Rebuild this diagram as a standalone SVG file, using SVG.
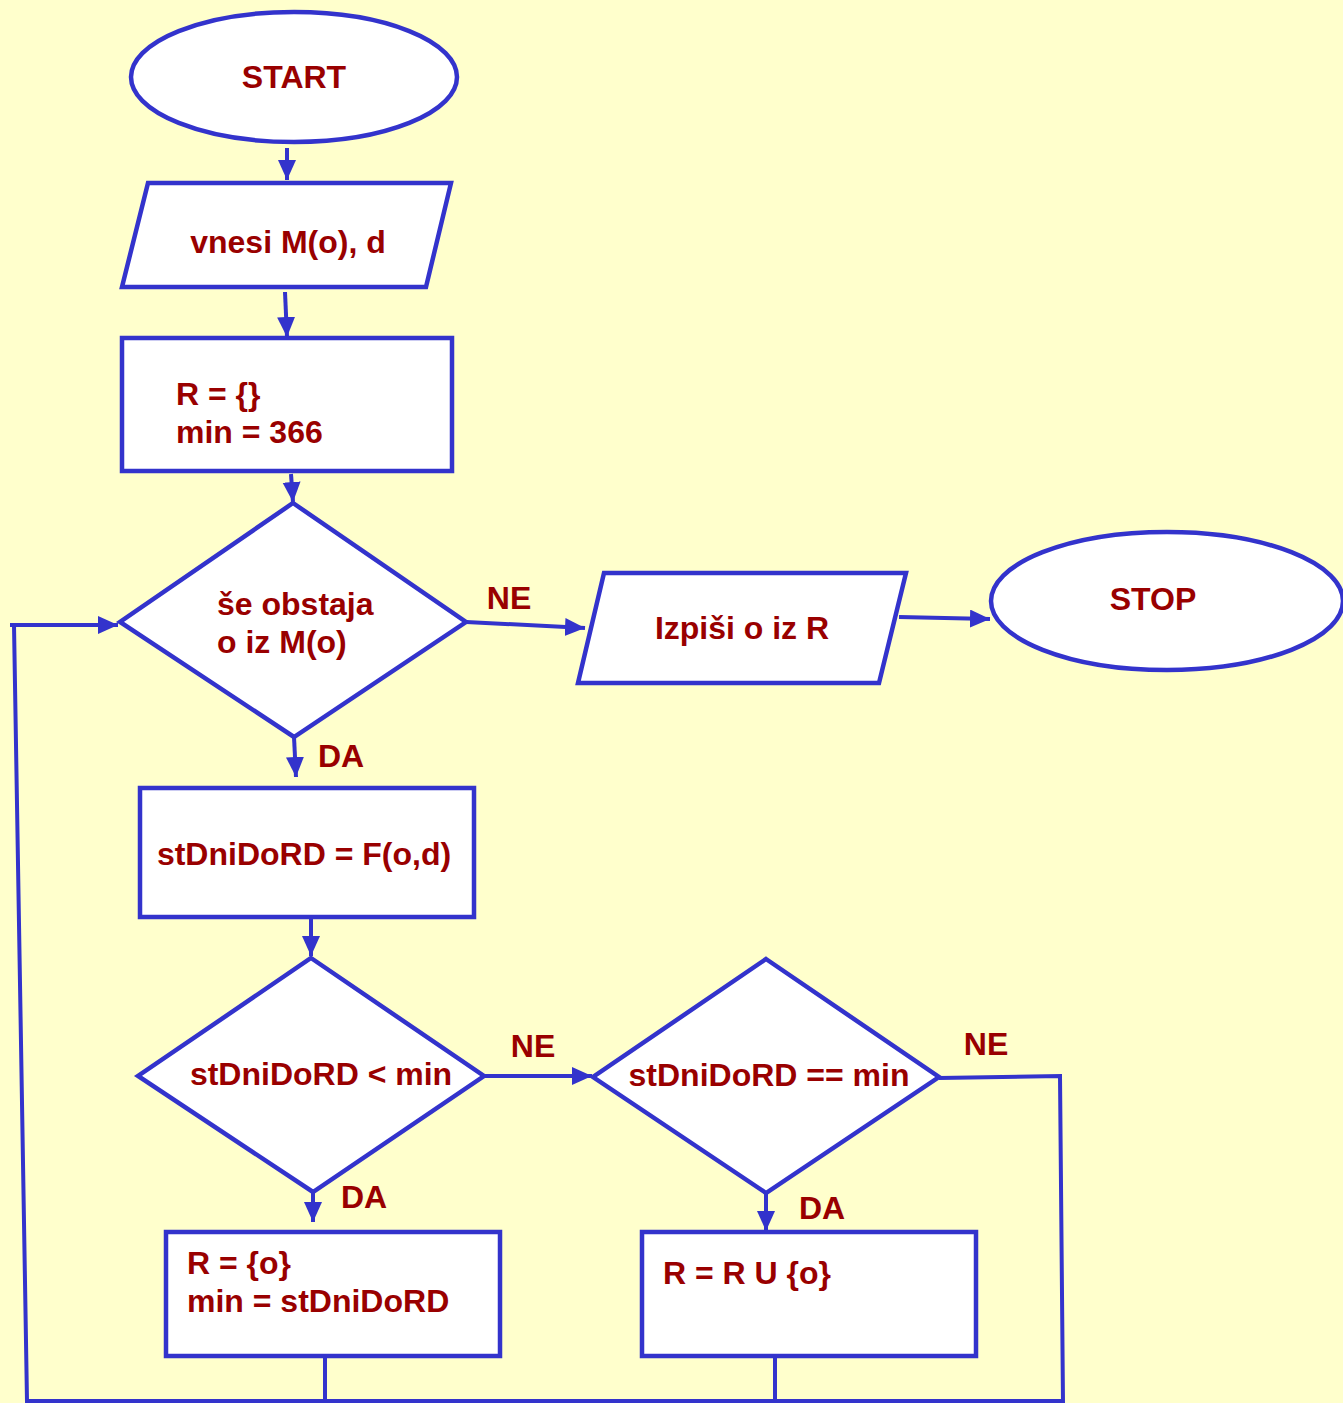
<svg xmlns="http://www.w3.org/2000/svg" width="1343" height="1403" viewBox="0 0 1343 1403">
<defs>
<marker id="ah" markerUnits="userSpaceOnUse" markerWidth="22" markerHeight="20" refX="20" refY="9" orient="auto">
<path d="M0,0 L20,9 L0,18 Z" fill="#3333cc"/>
</marker>
<style>
.shape{fill:#ffffff;stroke:#3333cc;stroke-width:4.5;}
.ln{fill:none;stroke:#3333cc;stroke-width:4;}
.t{font-family:"Liberation Sans",Arial,sans-serif;font-weight:bold;font-size:32px;fill:#990000;}
.c{text-anchor:middle;}
</style>
</defs>
<rect x="0" y="0" width="1343" height="1403" fill="#ffffcc"/>
<g id="connectors">
<line class="ln" x1="287" y1="148" x2="287" y2="180" marker-end="url(#ah)"/>
<line class="ln" x1="285" y1="292" x2="287" y2="337" marker-end="url(#ah)"/>
<line class="ln" x1="291" y1="474" x2="293" y2="502" marker-end="url(#ah)"/>
<line class="ln" x1="466" y1="622" x2="585" y2="628" marker-end="url(#ah)"/>
<line class="ln" x1="899" y1="617" x2="990" y2="619" marker-end="url(#ah)"/>
<line class="ln" x1="294" y1="737" x2="296" y2="777" marker-end="url(#ah)"/>
<line class="ln" x1="311" y1="917" x2="311" y2="956" marker-end="url(#ah)"/>
<line class="ln" x1="484" y1="1076" x2="592" y2="1076" marker-end="url(#ah)"/>
<polyline class="ln" points="939,1078 1060,1076 1063,1403"/>
<line class="ln" x1="313" y1="1192" x2="313" y2="1222" marker-end="url(#ah)"/>
<line class="ln" x1="766" y1="1193" x2="766" y2="1231" marker-end="url(#ah)"/>
<line class="ln" x1="325" y1="1356" x2="325" y2="1401"/>
<line class="ln" x1="775" y1="1356" x2="775" y2="1401"/>
<polyline class="ln" points="1063,1401 27,1401 14,625"/>
<line class="ln" x1="10" y1="625" x2="118" y2="625" marker-end="url(#ah)"/>
<text class="t c" x="509" y="609">NE</text>
<text class="t c" x="341" y="767">DA</text>
<text class="t c" x="533" y="1057">NE</text>
<text class="t c" x="986" y="1055">NE</text>
<text class="t c" x="364" y="1208">DA</text>
<text class="t c" x="822" y="1219">DA</text>
</g>
<g id="start">
<ellipse class="shape" cx="294" cy="77" rx="163" ry="65"/>
<text class="t c" x="294" y="88">START</text>
</g>
<g id="input">
<polygon class="shape" points="148,183 451,183 426,287 122,287"/>
<text class="t c" x="288" y="253">vnesi M(o), d</text>
</g>
<g id="init">
<rect class="shape" x="122" y="338" width="330" height="133"/>
<text class="t" x="176" y="405">R = {}</text>
<text class="t" x="176" y="443">min = 366</text>
</g>
<g id="cond1">
<polygon class="shape" points="293,503 466,622 294,737 120,622"/>
<text class="t" x="217" y="615">še obstaja</text>
<text class="t" x="217" y="653">o iz M(o)</text>
</g>
<g id="output">
<polygon class="shape" points="604,573 906,573 879,683 578,683"/>
<text class="t c" x="742" y="639">Izpiši o iz R</text>
</g>
<g id="stop">
<ellipse class="shape" cx="1167" cy="601" rx="176" ry="69"/>
<text class="t c" x="1153" y="610">STOP</text>
</g>
<g id="compute">
<rect class="shape" x="140" y="788" width="334" height="129"/>
<text class="t c" x="304" y="865">stDniDoRD = F(o,d)</text>
</g>
<g id="cond2">
<polygon class="shape" points="311,958 484,1076 313,1192 138,1076"/>
<text class="t c" x="321" y="1085">stDniDoRD &lt; min</text>
</g>
<g id="cond3">
<polygon class="shape" points="766,959 939,1077 766,1193 593,1077"/>
<text class="t c" x="769" y="1086">stDniDoRD == min</text>
</g>
<g id="assign1">
<rect class="shape" x="166" y="1232" width="334" height="124"/>
<text class="t" x="187" y="1274">R = {o}</text>
<text class="t" x="187" y="1312">min = stDniDoRD</text>
</g>
<g id="assign2">
<rect class="shape" x="642" y="1232" width="334" height="124"/>
<text class="t" x="663" y="1284">R = R U {o}</text>
</g>
</svg>
